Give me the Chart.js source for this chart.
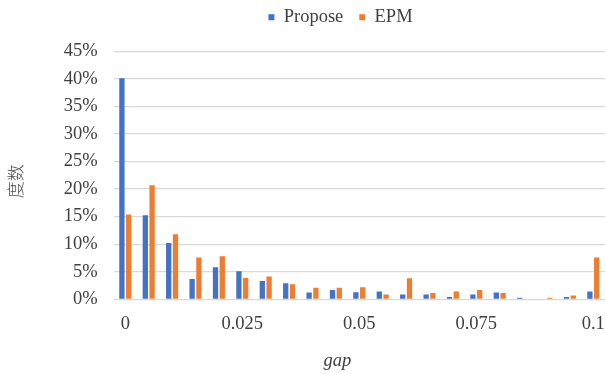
<!DOCTYPE html>
<html>
<head>
<meta charset="utf-8">
<script src="https://cdn.jsdelivr.net/npm/chart.js@4/dist/chart.umd.min.js"></script>
<style>
  html, body { margin: 0; padding: 0; background: #ffffff; }
  #wrap { width: 606px; height: 374px; position: relative; }
</style>
</head>
<body>
<div id="wrap"><canvas id="chart"></canvas></div>
<script>
// gap bins (0 to 0.1, step 0.005)
const categories = ['0', '0.005', '0.01', '0.015', '0.02', '0.025', '0.03', '0.035', '0.04', '0.045',
  '0.05', '0.055', '0.06', '0.065', '0.07', '0.075', '0.08', '0.085', '0.09', '0.095', '0.1'];

// share of samples per bin, in percent
const proposeValues = [40.1, 15.25, 10.2, 3.7, 5.8, 5.1, 3.3, 2.9, 1.25, 1.7, 1.3,
  1.4, 0.85, 0.85, 0.42, 0.85, 1.25, 0.3, 0, 0.42, 1.4];
const epmValues = [15.4, 20.7, 11.8, 7.6, 7.8, 3.85, 4.15, 2.75, 2.1, 2.1, 2.2,
  0.85, 3.8, 1.15, 1.4, 1.7, 1.15, 0, 0.3, 0.7, 7.6];

// only every fifth bin gets a visible label
const xTickLabels = { 0: '0', 5: '0.025', 10: '0.05', 15: '0.075', 20: '0.1' };
const yTickMax = 45;
const yTickStep = 5;
const xTitle = 'gap';
const yTitle = '度数';

const serif = "'Liberation Serif', 'Times New Roman', serif";
const textColor = '#404040';
const fontSize = 18.5;

// legend placement tweaks: extra space under the legend and a shift of the drawn items
const legendExtraHeight = 6.7;
const legendShiftX = 38;
const legendShiftY = -8;

const legendTweak = {
  id: 'legendTweak',
  beforeLayout(chart) {
    const lg = chart.legend;
    if (!lg || lg._tweaked) return;
    const fit = lg.fit;
    const draw = lg.draw;
    lg.fit = function () { fit.call(this); this.height += legendExtraHeight; };
    lg.draw = function () {
      const ctx = this.ctx;
      ctx.save();
      ctx.translate(legendShiftX, legendShiftY);
      draw.call(this);
      ctx.restore();
    };
    lg._tweaked = true;
  }
};

// axis titles: italic "gap" below the plot, vertical "度数" on the left
const axisTitles = {
  id: 'axisTitles',
  afterDraw(chart) {
    const { ctx, chartArea, height } = chart;
    ctx.save();
    ctx.textAlign = 'center';
    ctx.textBaseline = 'middle';
    ctx.fillStyle = textColor;
    ctx.font = `italic ${fontSize}px ${serif}`;
    ctx.fillText(xTitle, (chartArea.left + chartArea.right) / 2 - 22, height - 13);
    ctx.restore();

    ctx.save();
    ctx.translate(16, (chartArea.top + chartArea.bottom) / 2 + 6);
    ctx.rotate(-Math.PI / 2);
    ctx.textAlign = 'center';
    ctx.textBaseline = 'middle';
    ctx.fillStyle = '#505050';
    ctx.font = "300 17px 'Noto Sans CJK SC', sans-serif";
    ctx.fillText(yTitle, 0, 0);
    ctx.restore();
  }
};

new Chart(document.getElementById('chart'), {
  type: 'bar',
  data: {
    labels: categories,
    datasets: [
      { label: 'Propose', data: proposeValues, backgroundColor: '#4472C4', borderWidth: 0 },
      { label: 'EPM', data: epmValues, backgroundColor: '#ED7D31', borderWidth: 0 }
    ]
  },
  plugins: [legendTweak, axisTitles],
  options: {
    responsive: true,
    maintainAspectRatio: false,
    animation: false,
    categoryPercentage: 0.58,
    barPercentage: 0.78,
    layout: { padding: { top: 0, left: 0, right: 1, bottom: 0 } },
    plugins: {
      tooltip: { enabled: false },
      legend: {
        position: 'top',
        align: 'center',
        labels: {
          boxWidth: 6,
          boxHeight: 6,
          padding: 16,
          color: textColor,
          font: { family: serif, size: fontSize },
          generateLabels(chart) {
            return chart.data.datasets.map((ds, i) => ({
              text: ds.label,
              fillStyle: ds.backgroundColor,
              strokeStyle: ds.backgroundColor,
              lineWidth: 0,
              hidden: false,
              datasetIndex: i,
              fontColor: textColor
            }));
          }
        }
      }
    },
    scales: {
      x: {
        grid: { display: false, drawTicks: false },
        border: { display: false },
        ticks: {
          autoSkip: false,
          maxRotation: 0,
          padding: 14,
          color: textColor,
          font: { family: serif, size: fontSize },
          callback: (v, i) => (xTickLabels[i] !== undefined ? xTickLabels[i] : '')
        },
        title: { display: false },
        afterFit(scale) {
          scale.height = 74.7;
          // the plot runs right up to the edge; labels may overhang
          scale.paddingLeft = 0;
          scale.paddingRight = 0;
        }
      },
      y: {
        min: 0,
        max: yTickMax,
        grid: { color: '#d9d9d9', lineWidth: 1.3, drawTicks: false },
        border: { display: false },
        ticks: {
          autoSkip: false,
          stepSize: yTickStep,
          padding: 16,
          color: textColor,
          font: { family: serif, size: fontSize },
          callback: v => v + '%'
        },
        title: { display: false },
        afterFit(scale) { scale.width = 113.6; }
      }
    }
  }
});
</script>
</body>
</html>
